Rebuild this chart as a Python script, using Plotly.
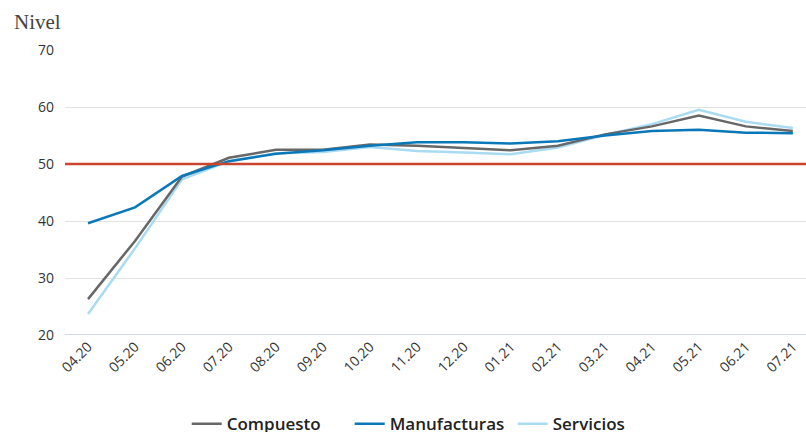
import plotly.graph_objects as go

meses = ["04.20", "05.20", "06.20", "07.20", "08.20", "09.20", "10.20", "11.20",
         "12.20", "01.21", "02.21", "03.21", "04.21", "05.21", "06.21", "07.21"]
compuesto = [26.3, 36.5, 47.8, 51.1, 52.5, 52.5, 53.4, 53.2, 52.8, 52.4, 53.2, 55.2, 56.6, 58.5, 56.6, 55.8]
manufacturas = [39.6, 42.4, 47.9, 50.5, 51.8, 52.4, 53.2, 53.8, 53.8, 53.6, 54.0, 55.0, 55.8, 56.0, 55.5, 55.4]
servicios = [23.7, 35.2, 47.3, 50.5, 51.9, 52.1, 53.0, 52.3, 52.0, 51.7, 52.9, 55.1, 57.0, 59.5, 57.4, 56.3]
umbral = 50
y_ticks = [20, 30, 40, 50, 60, 70]

idx = list(range(len(meses)))
fig = go.Figure()
fig.add_trace(go.Scatter(x=idx, y=servicios, name="Servicios", mode="lines",
                         line=dict(color="#a9dbf2", width=2.5), legendrank=3))
fig.add_trace(go.Scatter(x=idx, y=compuesto, name="Compuesto", mode="lines",
                         line=dict(color="#676767", width=2.5), legendrank=1))
fig.add_trace(go.Scatter(x=idx, y=manufacturas, name="Manufacturas", mode="lines",
                         line=dict(color="#0a78b8", width=2.5), legendrank=2))

fig.add_shape(type="line", xref="paper", yref="y", x0=0, x1=1, y0=umbral, y1=umbral,
              line=dict(color="#c9452b", width=2.5), layer="above")

fig.update_layout(
    width=806, height=432,
    margin=dict(l=65, r=0, t=50, b=97),
    paper_bgcolor="white", plot_bgcolor="white",
    font=dict(family="Open Sans, DejaVu Sans, sans-serif", color="#333333", size=12),
    showlegend=True,
    legend=dict(orientation="h", xref="container", yref="container",
                x=0.535, xanchor="center", y=0.06, yanchor="top",
                font=dict(size=17, color="#222222", family="Open Sans, sans-serif", weight=600),
                traceorder="normal", itemwidth=30, entrywidth=118, tracegroupgap=0),
    xaxis=dict(range=[-0.49, 15.28], tickmode="array", tickvals=idx, ticktext=meses,
               tickangle=-45, showgrid=False, zeroline=False, showline=False,
               ticks="", automargin=False, tickfont=dict(size=14, color="#333333")),
    yaxis=dict(range=[20, 70], tickvals=y_ticks, showgrid=True, gridcolor="#e3e3e3",
               gridwidth=1, zeroline=False, showline=False, ticks="", ticklabelstandoff=10,
               automargin=False, tickfont=dict(size=14, color="#333333")),
    annotations=[dict(text="Nivel", xref="paper", yref="paper", x=-0.0715, y=1.05,
                      xanchor="left", yanchor="bottom", showarrow=False,
                      font=dict(family="Liberation Serif, serif", size=21, color="#444444"))],
)
fig.add_shape(type="line", xref="paper", yref="y", x0=0, x1=1, y0=20, y1=20,
              line=dict(color="#c4cde6", width=1.5), layer="below")

fig.write_html("out.html")
